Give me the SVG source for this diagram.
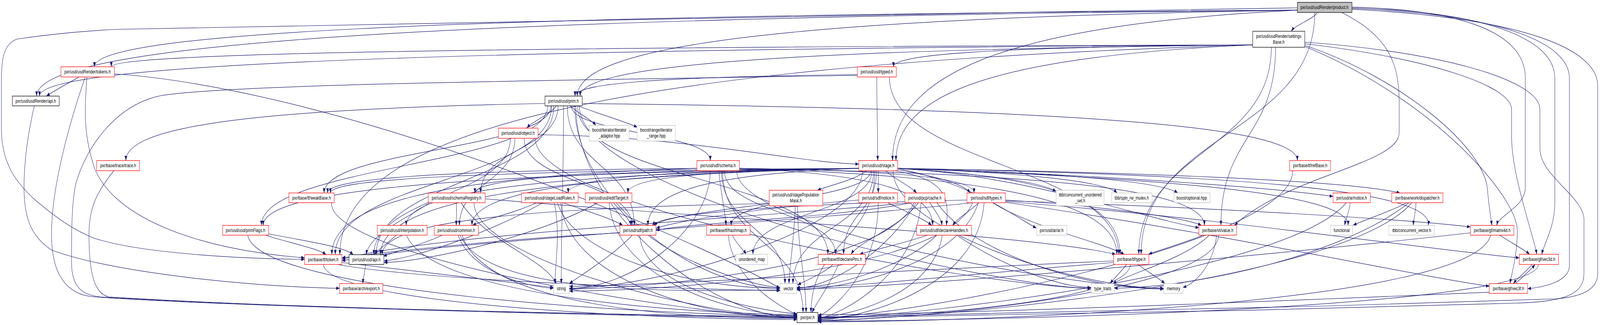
<svg xmlns="http://www.w3.org/2000/svg" width="5593" height="832" viewBox="0 0 5593 832" preserveAspectRatio="none" style="width:100%;height:100%;display:block">
<defs>
<marker id="a" viewBox="0 0 12 9" refX="12" refY="4.5" markerWidth="12" markerHeight="9" markerUnits="userSpaceOnUse" orient="auto"><path d="M0,0L12,4.5L0,9z" fill="#191970"/></marker>
<style>
.e{fill:none;stroke:#191970;stroke-width:1.2;marker-end:url(#a)}
.n rect{fill:#fff;stroke-width:1.3}
.r rect{stroke:#ff0000}
.k rect{stroke:#000}
.g rect{stroke:#bfbfbf}
.root rect{fill:#bfbfbf;stroke:#000}
text{font-family:"Liberation Sans",Arial,Helvetica,sans-serif;font-size:13px;fill:#000;text-anchor:middle}
</style>
</defs>
<rect width="5593" height="832" fill="#fff"/>
<g id="edges">
<path class="e" d="M4726,24 C5300,45 5585,120 5585,220 L5585,700 C5585,745 5520,760 5440,765 C4500,790 3200,808 2859,812"/>
<path class="e" d="M4535,26 C1230,48 128,125 128,246"/>
<path class="e" d="M4605,32 C4590,50 4530,62 4514,80"/>
<path class="e" d="M4535,26 C2650,48 2018,125 2018,246"/>
<path class="e" d="M4535,26 C3475,65 3120,199 3120,411"/>
<path class="e" d="M4535,26 C1381,40 330,91 330,171"/>
<path class="e" d="M4690,32 C4850,90 4891,160 4891,260 L4891,340 C4891,420 4500,450 4315,577"/>
<path class="e" d="M4726,20 C5200,30 5435,100 5435,200 L5435,520 C5435,580 5400,620 5389,651"/>
<path class="e" d="M4726,22 C5250,36 5486,110 5486,200 L5486,680 C5486,720 5400,735 5340,739"/>
<path class="e" d="M4726,18 C5100,25 5332,80 5332,200 L5332,480 C5332,530 5240,550 5232,577"/>
<path class="e" d="M4535,20 C3000,40 1200,55 420,75 C300,78 150,90 60,100 C20,110 5,140 5,200 L5,330 C5,420 60,470 120,510 C200,560 260,590 330,610 C500,650 850,662 1065,664"/>
<path class="e" d="M4596,32 C4596,342 3989,342 3989,651"/>
<path class="e" d="M4561,108 C5000,130 5383,200 5383,280 L5383,380 C5383,450 5531,500 5537,560 L5537,700 C5537,760 5450,772 5300,776 C4500,796 3200,810 2859,814"/>
<path class="e" d="M4379,115 C1198,128 138,174 138,246"/>
<path class="e" d="M4379,115 C3437,121 3123,140 3123,171"/>
<path class="e" d="M4379,115 C2616,128 2028,174 2028,246"/>
<path class="e" d="M4379,115 C3444,145 3132,248 3132,411"/>
<path class="e" d="M4379,115 C1386,121 389,140 389,171"/>
<path class="e" d="M4459,121 C4459,349 4268,349 4268,577"/>
<path class="e" d="M4561,112 C5000,150 5284,220 5284,280 L5284,350 C5284,450 5360,600 5372,651"/>
<path class="e" d="M4561,119 C5000,250 5304,500 5304,591 C5304,650 5285,700 5278,726"/>
<path class="e" d="M4561,116 C4900,200 5195,380 5200,489 C5205,530 5212,560 5215,577"/>
<path class="e" d="M4379,115 C1986,169 1188,357 1188,652"/>
<path class="e" d="M4444,121 C4444,386 3981,386 3981,651"/>
<path class="e" d="M298,197 C240,320 180,480 180,600 C180,700 230,755 330,760 C900,790 2400,808 2786,812"/>
<path class="e" d="M277,197 C240,212 190,232 162,246"/>
<path class="e" d="M304,197 C296,280 290,340 330,430 C400,560 700,640 1065,660"/>
<path class="e" d="M400,189 C1200,230 2400,600 2727,738"/>
<path class="e" d="M2997,191 C2257,197 2010,216 2010,246"/>
<path class="e" d="M3065,197 C3065,304 3068,304 3068,411"/>
<path class="e" d="M2997,193 C2000,205 800,215 561,245 C400,270 300,380 265,470 C250,520 250,600 250,670 C250,730 280,755 350,760 C1000,790 2400,812 2786,814"/>
<path class="e" d="M3109,197 C3109,424 3910,424 3910,651"/>
<path class="e" d="M120,271 C95,350 84,420 84,480 C84,560 110,606 180,640 C400,700 900,735 1187,738"/>
<path class="e" d="M2013,271 C2013,542 2486,813 2786,813"/>
<path class="e" d="M1936,271 C1936,462 1315,462 1315,652"/>
<path class="e" d="M1945,271 C1920,295 1860,310 1842,328"/>
<path class="e" d="M1915,271 C1915,424 914,424 914,577"/>
<path class="e" d="M1997,271 C1997,341 2483,341 2483,411"/>
<path class="e" d="M1905,265 C806,280 440,331 440,411"/>
<path class="e" d="M2019,271 C2019,461 2894,461 2894,651"/>
<path class="e" d="M2035,265 C3910,280 4535,331 4535,411"/>
<path class="e" d="M1928,271 C1928,462 1172,462 1172,652"/>
<path class="e" d="M1926,271 C1926,383 1133,383 1133,494"/>
<path class="e" d="M1983,271 C1983,424 2217,424 2217,577"/>
<path class="e" d="M1993,271 C2020,290 2065,305 2083,321"/>
<path class="e" d="M2020,271 C2110,296 2190,312 2228,326"/>
<path class="e" d="M1970,271 C1970,498 1962,498 1962,726"/>
<path class="e" d="M2025,271 C2025,505 3514,738 3814,738"/>
<path class="e" d="M2009,271 C2009,505 2427,738 2727,738"/>
<path class="e" d="M1951,271 C1951,382 1680,382 1680,494"/>
<path class="e" d="M1784,354 C1784,503 1307,503 1307,652"/>
<path class="e" d="M1800,354 C1800,466 1606,466 1606,577"/>
<path class="e" d="M1881,345 C2400,348 2800,418 3002,420"/>
<path class="e" d="M1832,354 C1832,466 2209,466 2209,577"/>
<path class="e" d="M1871,354 C1871,546 3514,738 3814,738"/>
<path class="e" d="M398,437 C340,490 311,530 311,600 C311,700 330,752 380,760 C1000,790 2400,810 2786,810"/>
<path class="e" d="M2526,437 C2526,619 2807,619 2807,800"/>
<path class="e" d="M2585,431 C3091,446 3260,497 3260,577"/>
<path class="e" d="M2585,431 C3200,437 3405,460 3405,494"/>
<path class="e" d="M2532,437 C2532,544 2921,544 2921,651"/>
<path class="e" d="M2513,437 C2520,500 2535,540 2538,577"/>
<path class="e" d="M2436,431 C1479,453 1160,530 1160,652"/>
<path class="e" d="M2585,431 C3574,453 3904,530 3904,651"/>
<path class="e" d="M2436,431 C1468,437 1145,460 1145,494"/>
<path class="e" d="M2585,431 C3804,446 4210,497 4210,577"/>
<path class="e" d="M2575,437 C2575,588 3768,738 4068,738"/>
<path class="e" d="M2483,437 C2483,588 2209,738 1990,738"/>
<path class="e" d="M2522,437 C2522,582 2744,582 2744,726"/>
<path class="e" d="M3058,437 C3058,619 2835,619 2835,800"/>
<path class="e" d="M3002,431 C1748,453 1330,530 1330,652"/>
<path class="e" d="M3002,431 C1988,446 1650,497 1650,577"/>
<path class="e" d="M3002,431 C2397,437 2195,460 2195,494"/>
<path class="e" d="M3002,431 C1815,446 1420,497 1420,577"/>
<path class="e" d="M3002,431 C1995,437 1660,460 1660,494"/>
<path class="e" d="M3002,431 C2240,437 1986,460 1986,494"/>
<path class="e" d="M3030,437 C2990,460 2900,475 2857,487"/>
<path class="e" d="M3002,431 C1440,446 920,497 920,577"/>
<path class="e" d="M3064,437 C3064,544 2949,544 2949,651"/>
<path class="e" d="M3044,437 C3044,507 2556,507 2556,577"/>
<path class="e" d="M3002,431 C1617,437 1155,460 1155,494"/>
<path class="e" d="M3138,431 C3400,470 3560,560 3623,584"/>
<path class="e" d="M3138,431 C3800,445 4450,480 4660,503"/>
<path class="e" d="M3129,437 C3300,460 3320,500 3308,577"/>
<path class="e" d="M3070,437 C3070,460 3070,470 3070,494"/>
<path class="e" d="M3002,431 C2449,446 2265,497 2265,577"/>
<path class="e" d="M3138,434 C3250,450 3360,465 3392,494"/>
<path class="e" d="M3096,437 C3130,460 3180,475 3204,494"/>
<path class="e" d="M3138,431 C3600,450 4000,560 4191,583"/>
<path class="e" d="M3138,431 C3900,440 4700,460 4894,494"/>
<path class="e" d="M3138,431 C3600,440 4050,460 4117,494"/>
<path class="e" d="M3138,431 C4200,445 5020,480 4992,577"/>
<path class="e" d="M3138,431 C3400,445 3620,460 3692,490"/>
<path class="e" d="M3138,431 C3500,440 3860,460 3905,494"/>
<path class="e" d="M3138,431 C4000,455 4720,490 4712,577"/>
<path class="e" d="M3015,437 C3015,588 2290,738 1990,738"/>
<path class="e" d="M3122,437 C3122,588 3768,738 4068,738"/>
<path class="e" d="M3048,437 C3048,544 2632,544 2632,651"/>
<path class="e" d="M3054,437 C3054,582 2772,582 2772,726"/>
<path class="e" d="M3138,431 C3721,453 3915,530 3915,651"/>
<path class="e" d="M4519,437 C4519,625 3159,813 2859,813"/>
<path class="e" d="M2788,527 C2790,650 2815,700 2818,800"/>
<path class="e" d="M2689,521 C1674,534 1336,580 1336,652"/>
<path class="e" d="M2689,521 C2500,540 2320,555 2285,577"/>
<path class="e" d="M2780,527 C2775,620 2760,680 2758,726"/>
<path class="e" d="M1158,519 C1158,666 2486,813 2786,813"/>
<path class="e" d="M1502,519 C1420,560 1290,600 1280,652"/>
<path class="e" d="M1596,519 C1596,540 1595,555 1595,577"/>
<path class="e" d="M1612,519 C1700,620 1900,660 1945,726"/>
<path class="e" d="M1696,509 C2500,560 3600,600 3900,651"/>
<path class="e" d="M1657,519 C1657,666 2486,813 2786,813"/>
<path class="e" d="M1876,519 C1800,545 1700,560 1652,577"/>
<path class="e" d="M1898,519 C1700,600 1450,660 1342,668"/>
<path class="e" d="M1938,519 C1960,600 1940,680 1940,726"/>
<path class="e" d="M1949,519 C2000,650 2400,738 2727,738"/>
<path class="e" d="M1968,519 C2050,540 2140,560 2177,577"/>
<path class="e" d="M1960,519 C1980,700 2400,813 2786,813"/>
<path class="e" d="M2089,519 C1900,600 1500,670 1342,672"/>
<path class="e" d="M2144,519 C2170,540 2200,560 2206,577"/>
<path class="e" d="M2129,519 C2150,700 2500,800 2786,810"/>
<path class="e" d="M3103,519 C3160,540 3230,560 3257,577"/>
<path class="e" d="M3002,512 C2700,530 2400,560 2294,584"/>
<path class="e" d="M3070,519 C3070,700 2900,800 2859,810"/>
<path class="e" d="M3250,519 C3270,540 3290,560 3293,577"/>
<path class="e" d="M3210,519 C3150,580 3000,620 2975,651"/>
<path class="e" d="M3202,519 C3100,650 2900,735 2785,738"/>
<path class="e" d="M3187,519 C2900,560 2400,570 2293,590"/>
<path class="e" d="M3195,519 C3100,680 2300,738 1990,740"/>
<path class="e" d="M3220,519 C3200,700 2950,805 2859,815"/>
<path class="e" d="M3275,519 C3400,650 3800,740 4068,740"/>
<path class="e" d="M3180,519 C2600,560 1500,600 1195,664"/>
<path class="e" d="M3422,519 C3390,540 3345,560 3330,577"/>
<path class="e" d="M3380,512 C2900,520 2320,540 2280,577"/>
<path class="e" d="M3515,514 C4200,530 4900,560 5140,581"/>
<path class="e" d="M3515,516 C4300,560 5000,640 5311,660"/>
<path class="e" d="M3515,518 C4300,600 4900,700 5206,733"/>
<path class="e" d="M3400,519 C2600,580 1500,620 1195,668"/>
<path class="e" d="M3470,519 C3600,580 3850,620 3930,651"/>
<path class="e" d="M3515,512 C3900,530 4150,560 4200,577"/>
<path class="e" d="M3400,519 C3300,700 2300,745 1990,745"/>
<path class="e" d="M3420,519 C3350,680 2950,740 2785,742"/>
<path class="e" d="M3440,519 C3420,740 3000,818 2859,818"/>
<path class="e" d="M4720,519 C4715,545 4705,560 4700,577"/>
<path class="e" d="M4706,519 C4500,700 3200,810 2859,816"/>
<path class="e" d="M4918,519 C4850,545 4760,565 4730,577"/>
<path class="e" d="M4950,519 C4948,545 4942,560 4940,577"/>
<path class="e" d="M4925,519 C4700,650 4200,735 3895,738"/>
<path class="e" d="M4935,519 C4700,720 3300,815 2859,820"/>
<path class="e" d="M866,602 C900,750 2300,808 2786,808"/>
<path class="e" d="M935,598 C1050,615 1200,630 1235,652"/>
<path class="e" d="M928,602 C1000,620 1110,635 1140,652"/>
<path class="e" d="M1385,602 C1360,620 1320,640 1308,652"/>
<path class="e" d="M1421,602 C1500,750 2300,800 2786,806"/>
<path class="e" d="M1546,602 C1480,625 1380,645 1340,656"/>
<path class="e" d="M1601,602 C1650,700 1850,735 1935,738"/>
<path class="e" d="M1608,602 C1700,760 2400,745 2727,742"/>
<path class="e" d="M1615,602 C1700,790 2400,815 2786,815"/>
<path class="e" d="M2167,596 C1800,610 1400,640 1195,660"/>
<path class="e" d="M2210,602 C2150,650 2040,700 1990,726"/>
<path class="e" d="M2265,602 C2400,680 2650,735 2727,736"/>
<path class="e" d="M2236,602 C2250,750 2700,800 2786,803"/>
<path class="e" d="M2560,602 C2575,625 2600,640 2608,651"/>
<path class="e" d="M2546,602 C2560,720 2740,790 2786,806"/>
<path class="e" d="M3242,602 C3150,625 3050,640 3005,651"/>
<path class="e" d="M3275,602 C3150,690 2900,738 2785,736"/>
<path class="e" d="M3294,602 C3260,760 2950,812 2859,812"/>
<path class="e" d="M3345,602 C3500,680 3700,735 3814,736"/>
<path class="e" d="M4205,602 C4130,625 4050,640 4015,651"/>
<path class="e" d="M4227,602 C4150,660 3950,700 3890,726"/>
<path class="e" d="M4253,602 C4240,680 4180,725 4135,736"/>
<path class="e" d="M4260,602 C4250,750 3200,815 2859,822"/>
<path class="e" d="M5242,602 C5280,620 5330,640 5347,651"/>
<path class="e" d="M5140,596 C4500,650 3200,735 2785,740"/>
<path class="e" d="M5211,602 C5150,780 3400,824 2859,824"/>
<path class="e" d="M1195,672 C1500,700 1800,725 1935,736"/>
<path class="e" d="M1180,677 C1500,720 2400,740 2727,744"/>
<path class="e" d="M1130,677 C1150,780 2300,818 2786,818"/>
<path class="e" d="M1278,677 C1276,695 1270,710 1268,726"/>
<path class="e" d="M2912,677 C2880,700 2810,720 2788,730"/>
<path class="e" d="M2931,677 C2900,730 2855,775 2838,800"/>
<path class="e" d="M3938,677 C3920,695 3895,712 3880,726"/>
<path class="e" d="M3978,677 C4010,695 4050,712 4072,726"/>
<path class="e" d="M3893,668 C3200,690 2300,730 1990,733"/>
<path class="e" d="M3893,672 C3400,700 3000,735 2785,736"/>
<path class="e" d="M3952,677 C3940,780 3100,813 2859,813"/>
<path class="e" d="M5356,677 C5335,695 5305,712 5290,726"/>
<path class="e" d="M5378,677 C5370,790 3400,822 2859,822"/>
<path class="e" d="M5298,726 C5320,710 5350,692 5366,677"/>
<path class="e" d="M5206,748 C4500,770 3300,805 2859,806"/>
</g>
<g id="node-product" class="n root"><rect x="4535" y="6" width="191" height="26"/><text x="4630" y="23">pxr/usd/usdRender/product.h</text></g>
<g id="node-settingsBase" class="n k"><rect x="4379" y="80" width="182" height="41"/><text x="4470" y="97">pxr/usd/usdRender/settings</text><text x="4470" y="112">Base.h</text></g>
<g id="node-tokens" class="n r"><rect x="213" y="171" width="187" height="26"/><text x="306" y="188">pxr/usd/usdRender/tokens.h</text></g>
<g id="node-typed" class="n r"><rect x="2997" y="171" width="136" height="26"/><text x="3065" y="188">pxr/usd/usd/typed.h</text></g>
<g id="node-renderApi" class="n k"><rect x="43" y="246" width="164" height="25"/><text x="125" y="263">pxr/usd/usdRender/api.h</text></g>
<g id="node-prim" class="n k"><rect x="1905" y="246" width="130" height="25"/><text x="1970" y="263">pxr/usd/usd/prim.h</text></g>
<g id="node-object" class="n r"><rect x="1742" y="328" width="139" height="26"/><text x="1811" y="345">pxr/usd/usd/object.h</text></g>
<g id="node-iterAdaptor" class="n g"><rect x="2060" y="321" width="139" height="40"/><text x="2130" y="337">boost/iterator/iterator</text><text x="2130" y="352">_adaptor.hpp</text></g>
<g id="node-iterRange" class="n g"><rect x="2227" y="321" width="134" height="40"/><text x="2294" y="337">boost/range/iterator</text><text x="2294" y="352">_range.hpp</text></g>
<g id="node-trace" class="n r"><rect x="338" y="411" width="150" height="26"/><text x="413" y="428">pxr/base/trace/trace.h</text></g>
<g id="node-schema" class="n r"><rect x="2436" y="411" width="149" height="26"/><text x="2510" y="428">pxr/usd/sdf/schema.h</text></g>
<g id="node-stage" class="n r"><rect x="3002" y="411" width="136" height="26"/><text x="3070" y="428">pxr/usd/usd/stage.h</text></g>
<g id="node-refBase" class="n r"><rect x="4508" y="411" width="143" height="26"/><text x="4580" y="428">pxr/base/tf/refBase.h</text></g>
<g id="node-popMask" class="n r"><rect x="2689" y="487" width="187" height="40"/><text x="2782" y="503">pxr/usd/usd/stagePopulation</text><text x="2782" y="518">Mask.h</text></g>
<g id="node-weakBase" class="n r"><rect x="1010" y="494" width="158" height="25"/><text x="1089" y="511">pxr/base/tf/weakBase.h</text></g>
<g id="node-schemaRegistry" class="n r"><rect x="1497" y="494" width="199" height="25"/><text x="1596" y="511">pxr/usd/usd/schemaRegistry.h</text></g>
<g id="node-stageLoadRules" class="n r"><rect x="1823" y="494" width="198" height="25"/><text x="1922" y="511">pxr/usd/usd/stageLoadRules.h</text></g>
<g id="node-editTarget" class="n r"><rect x="2046" y="494" width="163" height="25"/><text x="2128" y="511">pxr/usd/usd/editTarget.h</text></g>
<g id="node-sdfNotice" class="n r"><rect x="3002" y="494" width="136" height="25"/><text x="3070" y="511">pxr/usd/sdf/notice.h</text></g>
<g id="node-pcpCache" class="n r"><rect x="3163" y="494" width="140" height="25"/><text x="3233" y="511">pxr/usd/pcp/cache.h</text></g>
<g id="node-sdfTypes" class="n r"><rect x="3380" y="494" width="135" height="25"/><text x="3448" y="511">pxr/usd/sdf/types.h</text></g>
<g id="node-tbbCus" class="n g"><rect x="3692" y="487" width="167" height="40"/><text x="3776" y="503">tbb/concurrent_unordered</text><text x="3776" y="518">_set.h</text></g>
<g id="node-tbbSpin" class="n g"><rect x="3885" y="494" width="142" height="25"/><text x="3956" y="511">tbb/spin_rw_mutex.h</text></g>
<g id="node-boostOptional" class="n g"><rect x="4103" y="494" width="127" height="25"/><text x="4166" y="511">boost/optional.hpp</text></g>
<g id="node-arNotice" class="n r"><rect x="4660" y="494" width="130" height="25"/><text x="4725" y="511">pxr/usd/ar/notice.h</text></g>
<g id="node-dispatcher" class="n r"><rect x="4865" y="494" width="179" height="25"/><text x="4955" y="511">pxr/base/work/dispatcher.h</text></g>
<g id="node-primFlags" class="n r"><rect x="778" y="577" width="161" height="25"/><text x="858" y="594">pxr/usd/usd/primFlags.h</text></g>
<g id="node-interpolation" class="n r"><rect x="1319" y="577" width="174" height="25"/><text x="1406" y="594">pxr/usd/usd/interpolation.h</text></g>
<g id="node-common" class="n r"><rect x="1518" y="577" width="154" height="25"/><text x="1595" y="594">pxr/usd/usd/common.h</text></g>
<g id="node-path" class="n r"><rect x="2167" y="577" width="126" height="25"/><text x="2230" y="594">pxr/usd/sdf/path.h</text></g>
<g id="node-hashmap" class="n r"><rect x="2470" y="577" width="152" height="25"/><text x="2546" y="594">pxr/base/tf/hashmap.h</text></g>
<g id="node-declareHandles" class="n r"><rect x="3204" y="577" width="192" height="25"/><text x="3300" y="594">pxr/usd/sdf/declareHandles.h</text></g>
<g id="node-ar" class="n g"><rect x="3623" y="577" width="106" height="25"/><text x="3676" y="594">pxr/usd/ar/ar.h</text></g>
<g id="node-value" class="n r"><rect x="4191" y="577" width="132" height="25"/><text x="4257" y="594">pxr/base/vt/value.h</text></g>
<g id="node-functional" class="n g"><rect x="4651" y="577" width="77" height="25"/><text x="4690" y="594">functional</text></g>
<g id="node-tbbCv" class="n g"><rect x="4855" y="577" width="159" height="25"/><text x="4935" y="594">tbb/concurrent_vector.h</text></g>
<g id="node-matrix4d" class="n r"><rect x="5140" y="577" width="152" height="25"/><text x="5216" y="594">pxr/base/gf/matrix4d.h</text></g>
<g id="node-token" class="n r"><rect x="1065" y="652" width="130" height="25"/><text x="1130" y="669">pxr/base/tf/token.h</text></g>
<g id="node-usdApi" class="n k"><rect x="1220" y="652" width="122" height="25"/><text x="1281" y="669">pxr/usd/usd/api.h</text></g>
<g id="node-unorderedMap" class="n g"><rect x="2572" y="651" width="111" height="26"/><text x="2628" y="668">unordered_map</text></g>
<g id="node-declarePtrs" class="n r"><rect x="2860" y="651" width="165" height="26"/><text x="2943" y="668">pxr/base/tf/declarePtrs.h</text></g>
<g id="node-type" class="n r"><rect x="3893" y="651" width="123" height="26"/><text x="3955" y="668">pxr/base/tf/type.h</text></g>
<g id="node-vec3d" class="n r"><rect x="5311" y="651" width="137" height="26"/><text x="5380" y="668">pxr/base/gf/vec3d.h</text></g>
<g id="node-export" class="n r"><rect x="1187" y="726" width="151" height="25"/><text x="1263" y="743">pxr/base/arch/export.h</text></g>
<g id="node-string" class="n g"><rect x="1935" y="726" width="55" height="25"/><text x="1962" y="743">string</text></g>
<g id="node-vector" class="n g"><rect x="2727" y="726" width="58" height="25"/><text x="2756" y="743">vector</text></g>
<g id="node-typeTraits" class="n g"><rect x="3814" y="726" width="81" height="25"/><text x="3855" y="743">type_traits</text></g>
<g id="node-memory" class="n g"><rect x="4068" y="726" width="67" height="25"/><text x="4102" y="743">memory</text></g>
<g id="node-vec3f" class="n r"><rect x="5206" y="726" width="134" height="25"/><text x="5273" y="743">pxr/base/gf/vec3f.h</text></g>
<g id="node-pxr" class="n k"><rect x="2786" y="800" width="73" height="26"/><text x="2823" y="817">pxr/pxr.h</text></g>
</svg>
